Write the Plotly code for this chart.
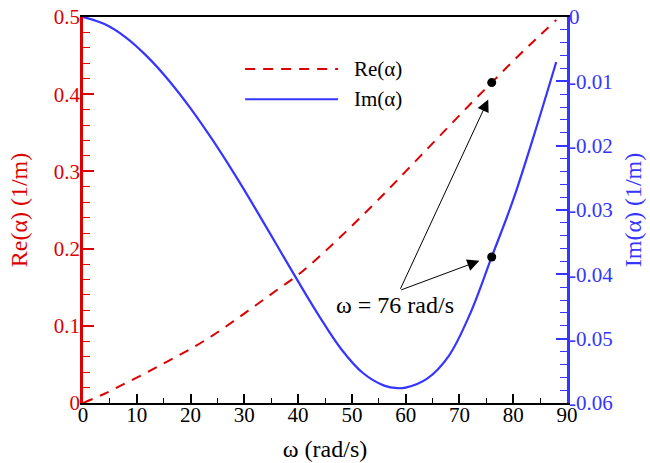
import plotly.graph_objects as go

# ---- data ----
omega = [0, 4, 8, 12, 16, 20, 24, 28, 32, 36, 40, 44, 48, 52, 56, 58.5, 60, 64, 68, 72, 76, 80, 84, 88]
re_alpha = [0.0, 0.012, 0.026, 0.040, 0.055, 0.070, 0.087, 0.106, 0.126, 0.146, 0.166, 0.190,
            0.216, 0.243, 0.271, 0.289, 0.300, 0.329, 0.358, 0.387, 0.415, 0.443, 0.470, 0.496]
im_alpha = [0.0, -0.0011, -0.0032, -0.0062, -0.0099, -0.0142, -0.0190, -0.0242, -0.0297, -0.0354,
            -0.0411, -0.0466, -0.0516, -0.0553, -0.0573, -0.0577, -0.0576, -0.0562, -0.0527,
            -0.0461, -0.0373, -0.0284, -0.0180, -0.0070]

point_omega = [76]
point_re = [0.415]
point_im = [-0.0373]

x_ticks = [0, 10, 20, 30, 40, 50, 60, 70, 80, 90]
y_ticks = [0, 0.1, 0.2, 0.3, 0.4, 0.5]
y_tick_text = ["0", "0.1", "0.2", "0.3", "0.4", "0.5"]
y2_ticks = [0, -0.01, -0.02, -0.03, -0.04, -0.05, -0.06]
y2_tick_text = ["0", "-0.01", "-0.02", "-0.03", "-0.04", "-0.05", "-0.06"]

RED = "#dd0000"
BLUE = "#3535ff"
FONT = "Liberation Serif, Times New Roman, Times, serif"

fig = go.Figure()
fig.add_trace(go.Scatter(x=omega, y=re_alpha, mode="lines", name="Re(α)",
                         line=dict(color=RED, width=2, dash="10px,8px", shape="spline"), yaxis="y"))
fig.add_trace(go.Scatter(x=omega, y=im_alpha, mode="lines", name="Im(α)",
                         line=dict(color=BLUE, width=2.2, shape="spline"), yaxis="y2"))
fig.add_trace(go.Scatter(x=point_omega, y=point_re, mode="markers", showlegend=False,
                         marker=dict(color="black", size=9), yaxis="y"))
fig.add_trace(go.Scatter(x=point_omega, y=point_im, mode="markers", showlegend=False,
                         marker=dict(color="black", size=9), yaxis="y2"))

# manual legend
leg_items = [("Re(α)", RED, "10px,8px", 0.865), ("Im(α)", BLUE, "solid", 0.787)]
for label, col, dash, yp in leg_items:
    fig.add_shape(type="line", xref="paper", yref="paper", x0=0.335, x1=0.527, y0=yp, y1=yp,
                  line=dict(color=col, width=2, dash=dash))
    fig.add_annotation(xref="paper", yref="paper", x=0.556, y=yp, text=label, showarrow=False,
                       xanchor="left", yanchor="middle", font=dict(family=FONT, size=21, color="black"))

# arrows
tail_x, tail_y = 58.9, 0.146
fig.add_annotation(x=75.35, y=0.393, xref="x", yref="y", ax=tail_x, ay=tail_y, axref="x", ayref="y",
                   text="", showarrow=True, arrowhead=2, arrowsize=2.4, arrowwidth=1, arrowcolor="black")
fig.add_annotation(x=73.7, y=-0.0379, xref="x", yref="y2", ax=tail_x, ay=-0.0425, axref="x", ayref="y2",
                   text="", showarrow=True, arrowhead=2, arrowsize=2.4, arrowwidth=1, arrowcolor="black")
fig.add_annotation(x=58.0, y=0.127, xref="x", yref="y", text="ω = 76 rad/s", showarrow=False,
                   xanchor="center", yanchor="middle", font=dict(family=FONT, size=24, color="black"))

fig.update_layout(
    width=650, height=463,
    margin=dict(l=83, r=83, t=17, b=60),
    paper_bgcolor="white", plot_bgcolor="white",
    showlegend=False,
    font=dict(family=FONT, size=21, color="black"),
    xaxis=dict(range=[0, 90], tickvals=x_ticks, ticks="inside", ticklen=9, tickwidth=2, automargin=False,
               tickcolor="black", showline=True, linecolor="black", linewidth=2, mirror=True,
               ticklabelstandoff=-8,
               showgrid=False, zeroline=False, tickfont=dict(family=FONT, size=21, color="black"),
               minor=dict(dtick=5, ticks="inside", ticklen=5, tickwidth=1, tickcolor="black"),
               title=dict(text="ω (rad/s)", font=dict(family=FONT, size=24, color="black"), standoff=14)),
    yaxis=dict(range=[0, 0.5], tickvals=y_ticks, ticktext=y_tick_text, ticks="inside", ticklen=11,
               tickwidth=2, tickcolor=RED, showline=True, linecolor=RED, linewidth=2.5, automargin=False,
               ticklabelstandoff=-4,
               showgrid=False, zeroline=False, tickfont=dict(family=FONT, size=21, color=RED),
               minor=dict(dtick=0.02, ticks="inside", ticklen=7, tickwidth=1, tickcolor=RED),
               title=dict(text="Re(α) (1/m)", font=dict(family=FONT, size=24, color=RED), standoff=20)),
    yaxis2=dict(range=[-0.06, 0], overlaying="y", side="right", tickvals=y2_ticks, ticktext=y2_tick_text,
                ticks="inside", ticklen=11, tickwidth=2, tickcolor=BLUE, showline=True, linecolor=BLUE,
                linewidth=2.5, showgrid=False, zeroline=False, automargin=False,
                ticklabelstandoff=-5,
                tickfont=dict(family=FONT, size=21, color=BLUE),
                minor=dict(dtick=0.002, ticks="inside", ticklen=7, tickwidth=1, tickcolor=BLUE),
                title=dict(text="Im(α) (1/m)", font=dict(family=FONT, size=24, color=BLUE), standoff=13)),
)

fig.write_html("out.html", config={"displayModeBar": False},
               post_script="document.body.style.margin='0';")
